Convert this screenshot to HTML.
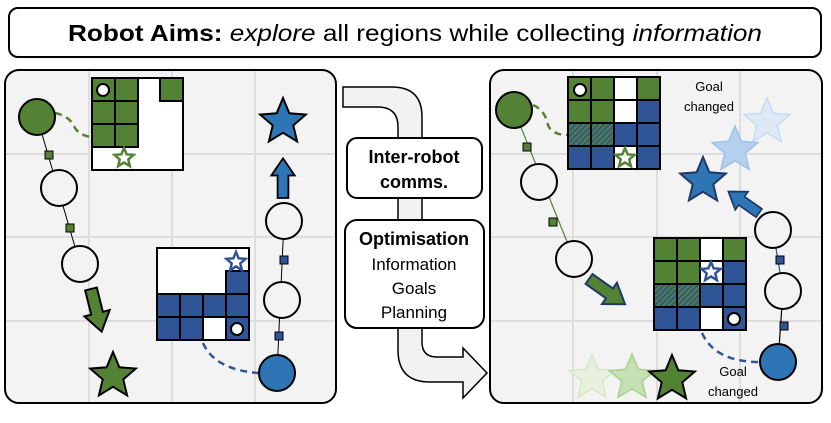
<!DOCTYPE html>
<html><head><meta charset="utf-8"><style>html,body{margin:0;padding:0;background:#fff}svg{display:block}</style></head><body>
<svg width="831" height="423" viewBox="0 0 831 423" xmlns="http://www.w3.org/2000/svg" font-family="Liberation Sans, sans-serif">
<defs>
<path id="s24" d="M0,-24 L6.35,-8.74 L22.82,-7.42 L10.27,3.34 L14.11,19.42 L0,10.8 L-14.11,19.42 L-10.27,3.34 L-22.82,-7.42 L-6.35,-8.74 Z"/>
<path id="s10" d="M0,-10 L2.65,-3.64 L9.51,-3.09 L4.28,1.39 L5.88,8.09 L0,4.5 L-5.88,8.09 L-4.28,1.39 L-9.51,-3.09 L-2.65,-3.64 Z"/>
<path id="ar" d="M0,-6 L25,-6 L25,-13 L44,0 L25,13 L25,6 L0,6 Z"/>
<pattern id="h" width="4" height="4" patternUnits="userSpaceOnUse" patternTransform="rotate(45)"><rect width="4" height="4" fill="#2f5597"/><rect width="2" height="4" fill="#548235"/></pattern>
</defs>
<rect x="9" y="8" width="812" height="49" rx="9" fill="#fff" stroke="#000" stroke-width="2"/>
<text x="68" y="41" font-size="23" textLength="694" lengthAdjust="spacingAndGlyphs"><tspan font-weight="bold">Robot Aims:</tspan> <tspan font-style="italic">explore</tspan> all regions while collecting <tspan font-style="italic">information</tspan></text>

<rect x="5" y="70" width="331" height="333" rx="14" fill="#f3f3f3" stroke="#000" stroke-width="2"/>
<g stroke="#ddd" stroke-width="2"><line x1="89" y1="71" x2="89" y2="402"/><line x1="172" y1="71" x2="172" y2="402"/><line x1="255" y1="71" x2="255" y2="402"/><line x1="6" y1="154" x2="335" y2="154"/><line x1="6" y1="237" x2="335" y2="237"/><line x1="6" y1="321" x2="335" y2="321"/></g>
<g stroke="#000" stroke-width="1"><line x1="37" y1="117" x2="80" y2="264"/><line x1="277" y1="373" x2="284" y2="221"/></g>
<path d="M55,113 Q70,116 75,128 Q80,136 92,137" fill="none" stroke="#548235" stroke-width="2.5" stroke-dasharray="7,5"/>
<path d="M203,343 Q215,370 259,373" fill="none" stroke="#2f5597" stroke-width="2.5" stroke-dasharray="7,5"/>
<g stroke="#000" stroke-width="1"><rect x="45" y="151" width="8" height="8" fill="#548235"/><rect x="66" y="224" width="8" height="8" fill="#548235"/><rect x="280" y="256" width="8" height="8" fill="#2f5597"/><rect x="275" y="332" width="8" height="8" fill="#2f5597"/></g>
<g stroke="#000" stroke-width="2">
<circle cx="37" cy="117" r="18" fill="#548235"/><circle cx="59" cy="188" r="18" fill="#f3f3f3"/><circle cx="80" cy="264" r="18" fill="#f3f3f3"/>
<circle cx="277" cy="373" r="18" fill="#2e75b6"/><circle cx="284" cy="221" r="18" fill="#f3f3f3"/><circle cx="282" cy="300" r="18" fill="#f3f3f3"/>
</g>
<g stroke="#000" stroke-width="2">
<rect x="92" y="78" width="91" height="92" fill="#fff"/>
<rect x="92" y="78" width="23" height="23" fill="#548235"/><rect x="115" y="78" width="23" height="23" fill="#548235"/><rect x="160" y="78" width="23" height="23" fill="#548235"/>
<rect x="92" y="101" width="23" height="23" fill="#548235"/><rect x="115" y="101" width="23" height="23" fill="#548235"/>
<rect x="92" y="124" width="23" height="23" fill="#548235"/><rect x="115" y="124" width="23" height="23" fill="#548235"/>
<circle cx="103" cy="90" r="6" fill="#fff"/>
</g>
<use href="#s10" transform="translate(124,158)" fill="#fff" stroke="#548235" stroke-width="2.5"/>
<g stroke="#000" stroke-width="2">
<rect x="157" y="248" width="92" height="92" fill="#fff"/>
<rect x="226" y="271" width="23" height="23" fill="#2f5597"/>
<rect x="157" y="294" width="23" height="23" fill="#2f5597"/><rect x="180" y="294" width="23" height="23" fill="#2f5597"/><rect x="203" y="294" width="23" height="23" fill="#2f5597"/><rect x="226" y="294" width="23" height="23" fill="#2f5597"/>
<rect x="157" y="317" width="23" height="23" fill="#2f5597"/><rect x="180" y="317" width="23" height="23" fill="#2f5597"/><rect x="226" y="317" width="23" height="23" fill="#2f5597"/>
<circle cx="237" cy="329" r="6" fill="#fff"/>
</g>
<use href="#s10" transform="translate(236,262)" fill="#fff" stroke="#2f5597" stroke-width="2.5"/>
<use href="#ar" transform="translate(91,289) rotate(76)" fill="#548235" stroke="#000" stroke-width="2"/>
<use href="#ar" transform="translate(283,198) rotate(-90) scale(0.9)" fill="#2e75b6" stroke="#000" stroke-width="2"/>
<use href="#s24" transform="translate(113,376)" fill="#548235" stroke="#000" stroke-width="2"/>
<use href="#s24" transform="translate(283,122)" fill="#2e75b6" stroke="#000" stroke-width="2"/>

<path d="M343,87 H392 Q422,87 422,117 V342 Q422,357 437,357 H463 V348 L487,373 L463,398 V382 H430 Q398,382 398,350 V127 Q398,107 378,107 H343 Z" fill="#f2f2f2" stroke="#000" stroke-width="1.5"/>
<rect x="347" y="138" width="135" height="60" rx="10" fill="#fff" stroke="#000" stroke-width="2"/>
<text x="414" y="163" font-size="18" font-weight="bold" text-anchor="middle">Inter-robot</text>
<text x="414" y="188" font-size="18" font-weight="bold" text-anchor="middle">comms.</text>
<rect x="345" y="220" width="139" height="108" rx="12" fill="#fff" stroke="#000" stroke-width="2"/>
<text x="414" y="245" font-size="18" font-weight="bold" text-anchor="middle">Optimisation</text>
<text x="414" y="270" font-size="17" text-anchor="middle">Information</text>
<text x="414" y="294" font-size="17" text-anchor="middle">Goals</text>
<text x="414" y="318" font-size="17" text-anchor="middle">Planning</text>

<rect x="490" y="70" width="332" height="333" rx="14" fill="#f3f3f3" stroke="#000" stroke-width="2"/>
<g stroke="#ddd" stroke-width="2"><line x1="573" y1="71" x2="573" y2="402"/><line x1="657" y1="71" x2="657" y2="402"/><line x1="740" y1="71" x2="740" y2="402"/><line x1="491" y1="154" x2="821" y2="154"/><line x1="491" y1="237" x2="821" y2="237"/><line x1="491" y1="321" x2="821" y2="321"/></g>
<line x1="514" y1="110" x2="574" y2="259" stroke="#548235" stroke-width="1.2"/>
<line x1="778" y1="362" x2="783" y2="291" stroke="#000" stroke-width="1.2"/>
<line x1="783" y1="291" x2="773" y2="230" stroke="#2f5597" stroke-width="1.2"/>
<path d="M533,105 Q545,110 548,125 Q552,135 568,135" fill="none" stroke="#548235" stroke-width="2.5" stroke-dasharray="7,5"/>
<path d="M702,333 Q715,362 760,362" fill="none" stroke="#2f5597" stroke-width="2.5" stroke-dasharray="7,5"/>
<g stroke="#000" stroke-width="1"><rect x="523" y="143" width="8" height="8" fill="#548235"/><rect x="549" y="218" width="8" height="8" fill="#548235"/><rect x="776" y="256" width="8" height="8" fill="#2f5597"/><rect x="780" y="322" width="8" height="8" fill="#2f5597"/></g>
<g stroke="#000" stroke-width="2">
<circle cx="514" cy="110" r="18" fill="#548235"/><circle cx="539" cy="182" r="18" fill="#f3f3f3"/><circle cx="574" cy="259" r="18" fill="#f3f3f3"/>
<circle cx="778" cy="362" r="18" fill="#2e75b6"/><circle cx="773" cy="230" r="18" fill="#f3f3f3"/><circle cx="783" cy="291" r="18" fill="#f3f3f3"/>
</g>
<g stroke="#000" stroke-width="2">
<rect x="568" y="77" width="23" height="23" fill="#548235"/><rect x="591" y="77" width="23" height="23" fill="#548235"/><rect x="614" y="77" width="23" height="23" fill="#fff"/><rect x="637" y="77" width="23" height="23" fill="#548235"/>
<rect x="568" y="100" width="23" height="23" fill="#548235"/><rect x="591" y="100" width="23" height="23" fill="#548235"/><rect x="614" y="100" width="23" height="23" fill="#fff"/><rect x="637" y="100" width="23" height="23" fill="#2f5597"/>
<rect x="568" y="123" width="23" height="23" fill="url(#h)"/><rect x="591" y="123" width="23" height="23" fill="url(#h)"/><rect x="614" y="123" width="23" height="23" fill="#2f5597"/><rect x="637" y="123" width="23" height="23" fill="#2f5597"/>
<rect x="568" y="146" width="23" height="23" fill="#2f5597"/><rect x="591" y="146" width="23" height="23" fill="#2f5597"/><rect x="614" y="146" width="23" height="23" fill="#fff"/><rect x="637" y="146" width="23" height="23" fill="#2f5597"/>
<circle cx="580" cy="90" r="6" fill="#fff"/>
</g>
<use href="#s10" transform="translate(625,158)" fill="#fff" stroke="#548235" stroke-width="2.5"/>
<g stroke="#000" stroke-width="2">
<rect x="654" y="238" width="23" height="23" fill="#548235"/><rect x="677" y="238" width="23" height="23" fill="#548235"/><rect x="700" y="238" width="23" height="23" fill="#fff"/><rect x="723" y="238" width="23" height="23" fill="#548235"/>
<rect x="654" y="261" width="23" height="23" fill="#548235"/><rect x="677" y="261" width="23" height="23" fill="#548235"/><rect x="700" y="261" width="23" height="23" fill="#fff"/><rect x="723" y="261" width="23" height="23" fill="#2f5597"/>
<rect x="654" y="284" width="23" height="23" fill="url(#h)"/><rect x="677" y="284" width="23" height="23" fill="url(#h)"/><rect x="700" y="284" width="23" height="23" fill="#2f5597"/><rect x="723" y="284" width="23" height="23" fill="#2f5597"/>
<rect x="654" y="307" width="23" height="23" fill="#2f5597"/><rect x="677" y="307" width="23" height="23" fill="#2f5597"/><rect x="700" y="307" width="23" height="23" fill="#fff"/><rect x="723" y="307" width="23" height="23" fill="#2f5597"/>
<circle cx="734" cy="319" r="6" fill="#fff"/>
</g>
<use href="#s10" transform="translate(711,272)" fill="#fff" stroke="#2f5597" stroke-width="2.5"/>
<use href="#ar" transform="translate(589,279) rotate(35)" fill="#548235" stroke="#1f3864" stroke-width="2"/>
<use href="#ar" transform="translate(759,213) rotate(215) scale(0.85)" fill="#2e75b6" stroke="#1f3864" stroke-width="2"/>
<use href="#s24" transform="translate(767,122)" fill="#ddeaf6" stroke="#c5dcf0" stroke-width="1.5"/>
<use href="#s24" transform="translate(735,150)" fill="#b4d0ee" stroke="#9dc3e6" stroke-width="1.5"/>
<use href="#s24" transform="translate(703,181)" fill="#2e75b6" stroke="#1f3864" stroke-width="2"/>
<use href="#s24" transform="translate(592,378)" fill="#e6f0dc" stroke="#d6e8c6" stroke-width="1.5"/>
<use href="#s24" transform="translate(632,378)" fill="#c5e0b4" stroke="#a9d18e" stroke-width="1.5"/>
<use href="#s24" transform="translate(672,379)" fill="#548235" stroke="#000" stroke-width="2"/>
<text x="709" y="91" font-size="13" text-anchor="middle">Goal</text>
<text x="709" y="111" font-size="13" text-anchor="middle">changed</text>
<text x="733" y="376" font-size="13" text-anchor="middle">Goal</text>
<text x="733" y="396" font-size="13" text-anchor="middle">changed</text>
</svg>
</body></html>
